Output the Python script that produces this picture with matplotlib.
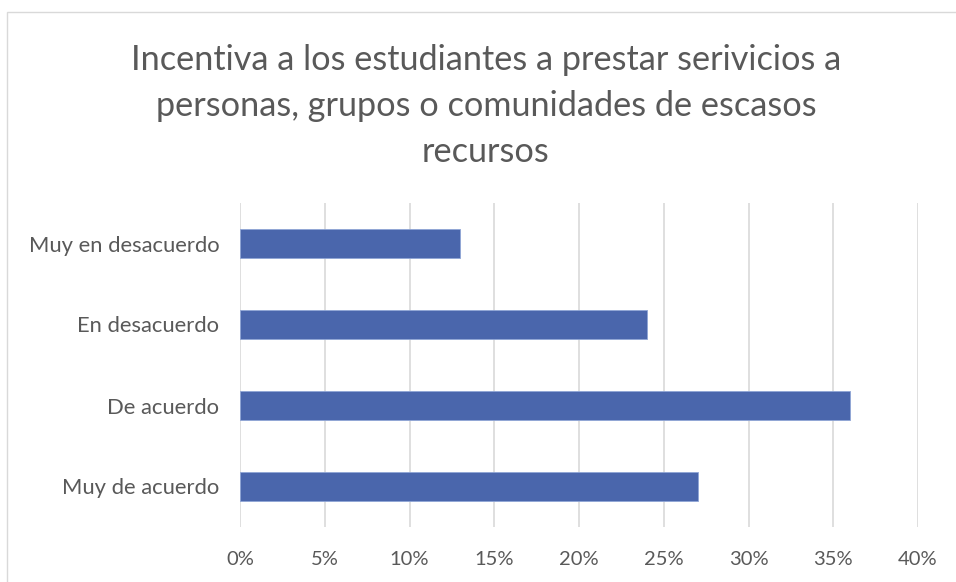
import matplotlib
matplotlib.use("Agg")
import matplotlib.pyplot as plt
from matplotlib.patches import Rectangle

# chart data
categories = ["Muy en desacuerdo", "En desacuerdo", "De acuerdo", "Muy de acuerdo"]
values = [13, 24, 36, 27]
xticks = [0, 5, 10, 15, 20, 25, 30, 35, 40]
title = "Incentiva a los estudiantes a prestar serivicios a\npersonas, grupos o comunidades de escasos\nrecursos"

plt.rcParams['font.family'] = ['Lato', 'DejaVu Sans']
text_color = '#595959'

fig = plt.figure(figsize=(9.56, 5.82), dpi=100)

# light border round the chart area
fig.patches.append(Rectangle((7 / 956, -0.05), 1.0, 1 - 12 / 582 + 0.05,
                             transform=fig.transFigure, fill=False,
                             edgecolor='#d9d9d9', linewidth=1))

ax = fig.add_axes([240 / 956, 1 - 527 / 582, 678 / 956, 324 / 582])
ax.barh(range(len(categories)), values, height=0.35, color='#4a66ac',
        edgecolor='#8fa5d6', linewidth=0.6, zorder=3)

ax.set_xlim(0, 40)
ax.set_ylim(-0.5, len(categories) - 0.5)
ax.invert_yaxis()
ax.set_yticks(range(len(categories)))
ax.set_yticklabels(categories)
ax.set_xticks(xticks)
ax.set_xticklabels([f"{t}%" for t in xticks])

ax.grid(axis='x', color='#d9d9d9', linewidth=1.2, zorder=0)
for s in ax.spines.values():
    s.set_visible(False)
ax.tick_params(length=0, colors=text_color)
ax.tick_params(axis='y', pad=15, labelsize=15.8)
ax.tick_params(axis='x', pad=17, labelsize=14.5)

fig.text(486 / 956, 1 - 106 / 582, title, ha='center', va='center',
         fontsize=24.7, color=text_color, linespacing=1.52)

fig.savefig("out.png", dpi=100)
